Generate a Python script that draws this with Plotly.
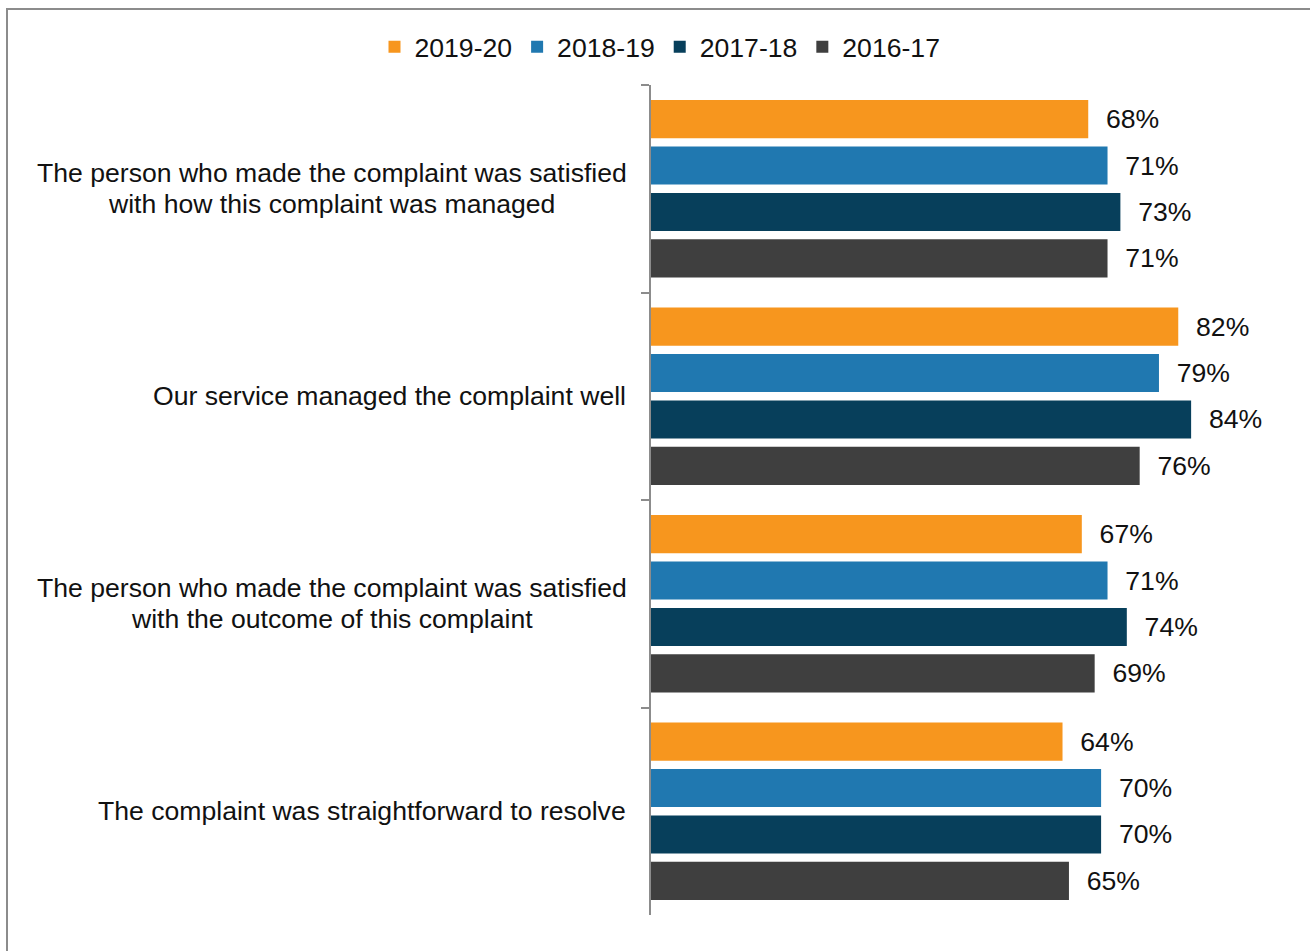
import plotly.graph_objects as go

categories = [
    "The person who made the complaint was satisfied\nwith how this complaint was managed",
    "Our service managed the complaint well",
    "The person who made the complaint was satisfied\nwith the outcome of this complaint",
    "The complaint was straightforward to resolve",
]
cat_keys = ["c1", "c2", "c3", "c4"]

series_names = ["2019-20", "2018-19", "2017-18", "2016-17"]
values_2019_20 = [0.68, 0.82, 0.67, 0.64]
values_2018_19 = [0.71, 0.79, 0.71, 0.70]
values_2017_18 = [0.73, 0.84, 0.74, 0.70]
values_2016_17 = [0.71, 0.76, 0.69, 0.65]
series_values = [values_2019_20, values_2018_19, values_2017_18, values_2016_17]
series_colors = ["#F7961E", "#2078B0", "#073F5B", "#3F3F3F"]

FONT = "Liberation Sans, Arial, sans-serif"
FS = 26.6
TXT = "#111111"

# plot-area geometry in pixels
L, R, T, B = 651, 16, 85, 36
W, H = 1310, 951
PW, PH = W - L - R, H - T - B

fig = go.Figure()
for name, vals, col in zip(series_names, series_values, series_colors):
    fig.add_trace(go.Bar(
        y=cat_keys, x=vals, name=name, orientation="h",
        marker=dict(color=col, line=dict(width=0)),
        text=[f"{round(v * 100)}%" for v in vals],
        texttemplate="  %{text}",
        textposition="outside", cliponaxis=False,
        textfont=dict(family=FONT, size=FS, color=TXT),
    ))

# category labels: single lines sit flush against the axis,
# two-line labels are centred on one another
LINE_GAP = 31
for key, label in zip(cat_keys, categories):
    lines = label.split("\n")
    if len(lines) == 1:
        fig.add_annotation(
            x=0, xref="paper", y=key, yref="y", text=lines[0],
            xanchor="right", yanchor="middle", xshift=-23,
            showarrow=False, font=dict(family=FONT, size=FS, color=TXT),
        )
    else:
        n = len(lines)
        for i, line in enumerate(lines):
            fig.add_annotation(
                x=(331.5 - L) / PW, xref="paper", y=key, yref="y", text=line,
                xanchor="center", yanchor="middle",
                yshift=((n - 1) / 2 - i) * LINE_GAP,
                showarrow=False, font=dict(family=FONT, size=FS, color=TXT),
            )

# chart frame (top and left edges visible)
fig.add_shape(
    type="rect", xref="paper", yref="paper",
    x0=(7 - L) / PW, x1=(W + 20 - L) / PW,
    y0=-(B + 30) / PH, y1=(H - B - 9) / PH,
    line=dict(color="#8C8C8C", width=2), fillcolor="rgba(0,0,0,0)", layer="below",
)

fig.update_layout(
    width=W, height=H,
    margin=dict(l=L, r=R, t=T, b=B),
    paper_bgcolor="white", plot_bgcolor="white",
    barmode="group", bargap=0.105, bargroupgap=0.18,
    font=dict(family=FONT, size=FS, color=TXT),
    legend=dict(
        orientation="h", xref="container", yref="container",
        x=660 / W, y=1 - 47 / H, xanchor="center", yanchor="middle",
        font=dict(family=FONT, size=FS, color=TXT),
        itemwidth=30, tracegroupgap=0,
    ),
    xaxis=dict(range=[0, 1], showgrid=False, zeroline=False, showticklabels=False,
               showline=False, ticks=""),
    yaxis=dict(autorange="reversed", showticklabels=False, showgrid=False,
               showline=True, linecolor="#8C8C8C", linewidth=2,
               ticks="outside", tickson="boundaries", ticklen=8,
               tickcolor="#8C8C8C", tickwidth=2),
)

fig.write_html("out.html")
